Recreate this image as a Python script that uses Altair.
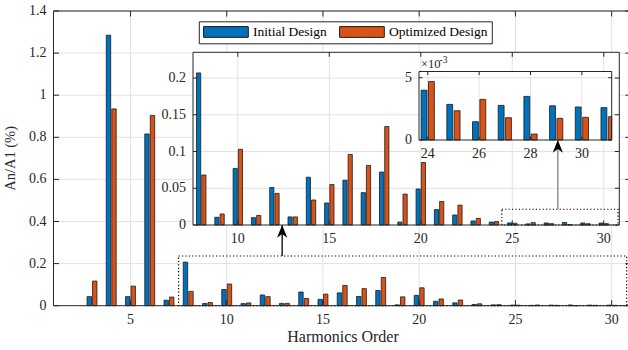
import altair as alt
import pandas as pd

# Harmonic content An/A1 (%) of the two designs
harmonics = list(range(3, 32))
initial = [0.043, 1.285, 0.043, 0.816, 0.026, 0.207, 0.0105, 0.077, 0.010, 0.051,
           0.011, 0.065, 0.030, 0.061, 0.044, 0.072, 0.004, 0.049, 0.021, 0.0136,
           0.0055, 0.0040, 0.00286, 0.00147, 0.00278, 0.0035, 0.00275, 0.00265, 0.0026]
optimized = [0.117, 0.935, 0.093, 0.904, 0.041, 0.068, 0.015, 0.103, 0.013, 0.043,
             0.011, 0.034, 0.055, 0.096, 0.081, 0.134, 0.042, 0.085, 0.032, 0.027,
             0.009, 0.0047, 0.00235, 0.00326, 0.00179, 0.00048, 0.00174, 0.00182, 0.00187]
series_names = ["Initial Design", "Optimized Design"]
series_colors = ["#0072BD", "#D95319"]

main_xticks = [5, 10, 15, 20, 25, 30]
main_yticks = [0, 0.2, 0.4, 0.6, 0.8, 1, 1.2, 1.4]
zoom1_xticks = [10, 15, 20, 25, 30]
zoom1_yticks = [0, 0.05, 0.1, 0.15, 0.2]
zoom2_xticks = [24, 26, 28, 30]
zoom2_yticks = [0, 5]

# page layout in pixels
PLOT_L, PLOT_T = 53.5, 11.0
PLOT_W, PLOT_H = 574.5, 294.7

FONT = "Liberation Serif"
INK = "#262626"
EDGE = "#1a1a1a"
GRID = "#e2e2e2"
GROUP_OFF = 0.143   # grouped-bar offset from the harmonic
BAR_HALF = 0.1145   # half bar width
ARROW_HEAD = "M0,0 L1,2.5 L0,1.75 L-1,2.5 Z"
# wide legend swatch: 8 x 2 path units, 5.6 px per unit -> about 45 x 11 px
LEGEND_SWATCH = "M-4,-0.96 L4,-0.96 L4,0.96 L-4,0.96 Z"

bars_df = pd.DataFrame({
    "h": harmonics * 2,
    "series": [series_names[0]] * len(harmonics) + [series_names[1]] * len(harmonics),
    "value": initial + optimized,
})


def scales_for(box, lims):
    """Scales spanning the whole plot so that `lims` lands on the pixel `box`."""
    l, t = box[0] - PLOT_L, box[1] - PLOT_T
    r, b = box[2] - PLOT_L, box[3] - PLOT_T
    x0, x1, y0, y1 = lims
    kx = (x1 - x0) / (r - l)
    ky = (y1 - y0) / (b - t)
    xs = alt.Scale(domain=[x0 - l * kx, x1 + (PLOT_W - r) * kx], nice=False, zero=False)
    ys = alt.Scale(domain=[y0 - (PLOT_H - b) * ky, y1 + t * ky], nice=False, zero=False)
    return xs, ys, kx, ky


def rect_df(x0, x1, y0, y1):
    return pd.DataFrame({"xa": [x0], "xb": [x1], "ya": [y0], "yb": [y1]})


def span_enc(xs, ys):
    return dict(x=alt.X("xa:Q", scale=xs, axis=None), x2="xb:Q",
                y=alt.Y("ya:Q", scale=ys, axis=None), y2="yb:Q")


def panel(box, lims, xticks, yticks, tick_len, hmin, hmax, factor=1.0,
          white=True, main=False, zoom_rect=None, arrow=None, notes=False, pad_x=7):
    xs, ys, kx, ky = scales_for(box, lims)
    x0, x1, y0, y1 = lims
    layers = []

    if white:
        layers.append(alt.Chart(rect_df(x0, x1, y0, y1)).mark_rect(fill="white")
                      .encode(**span_enc(xs, ys)))

    # grid
    grid_rows = [(v, v, y0, y1) for v in xticks] + [(x0, x1, v, v) for v in yticks if v != y0]
    layers.append(alt.Chart(pd.DataFrame(grid_rows, columns=["xa", "xb", "ya", "yb"]))
                  .mark_rule(color=GRID, strokeWidth=1).encode(**span_enc(xs, ys)))

    # grouped bars
    legend = None
    if main:
        legend = alt.Legend(
            title=None, orient="none", legendX=145.3, legendY=10.3,
            direction="horizontal", columns=2,
            symbolType=LEGEND_SWATCH, symbolSize=125, symbolOffset=16.9,
            symbolStrokeColor=EDGE, symbolStrokeWidth=1, symbolOpacity=1,
            labelFont=FONT, labelFontSize=13.5, labelColor="black", labelOffset=20.3,
            labelLimit=0, columnPadding=10, padding=3.5,
            strokeColor=INK, fillColor="white")
    layers.append(alt.Chart(bars_df).transform_filter(
        f"datum.h >= {hmin} && datum.h <= {hmax}"
    ).transform_calculate(
        mid=f"datum.h + (datum.series == '{series_names[0]}' ? {-GROUP_OFF} : {GROUP_OFF})"
    ).transform_calculate(
        left=f"datum.mid - {BAR_HALF}",
        right=f"min(datum.mid + {BAR_HALF}, {x1})",
        top=f"datum.value * {factor}",
        base="0",
    ).mark_rect(stroke=EDGE, strokeWidth=0.8).encode(
        x=alt.X("left:Q", scale=xs, axis=None), x2="right:Q",
        y=alt.Y("top:Q", scale=ys, axis=None), y2="base:Q",
        color=alt.Color("series:N", scale=alt.Scale(domain=series_names, range=series_colors),
                        legend=legend)))

    # dotted zoom region
    if zoom_rect is not None:
        layers.append(alt.Chart(rect_df(*zoom_rect)).mark_rect(
            fillOpacity=0, stroke="black", strokeWidth=1.2, strokeDash=[1.2, 2.2])
            .encode(**span_enc(xs, ys)))

    # axes box
    layers.append(alt.Chart(rect_df(x0, x1, y0, y1)).mark_rect(
        fillOpacity=0, stroke=INK, strokeWidth=1).encode(**span_enc(xs, ys)))

    # inward tick marks on all four sides
    tick_rows = []
    for v in xticks:
        tick_rows.append((v, v, y0, y0 + tick_len * ky))
        tick_rows.append((v, v, y1, y1 - tick_len * ky))
    for v in yticks:
        tick_rows.append((x0, x0 + tick_len * kx, v, v))
        tick_rows.append((x1, x1 - tick_len * kx, v, v))
    layers.append(alt.Chart(pd.DataFrame(tick_rows, columns=["xa", "xb", "ya", "yb"]))
                  .mark_rule(color=INK, strokeWidth=1).encode(**span_enc(xs, ys)))

    # tick labels
    xl = pd.DataFrame({"x": xticks, "y": [y0] * len(xticks), "t": [f"{v:g}" for v in xticks]})
    layers.append(alt.Chart(xl).mark_text(
        baseline="top", align="center", dy=pad_x, font=FONT, fontSize=14, color=INK).encode(
        x=alt.X("x:Q", scale=xs, axis=None), y=alt.Y("y:Q", scale=ys, axis=None), text="t:N"))
    yl = pd.DataFrame({"x": [x0] * len(yticks), "y": yticks, "t": [f"{v:g}" for v in yticks]})
    layers.append(alt.Chart(yl).mark_text(
        baseline="middle", align="right", dx=-7, font=FONT, fontSize=14, color=INK).encode(
        x=alt.X("x:Q", scale=xs, axis=None), y=alt.Y("y:Q", scale=ys, axis=None), text="t:N"))

    if main:
        titles = pd.DataFrame({"t": ["Harmonics Order", "An/A1 (%)"]})
        layers.append(alt.Chart(titles).transform_filter("datum.t == 'Harmonics Order'")
                      .mark_text(align="center", baseline="alphabetic", font=FONT,
                                 fontSize=16, color=INK)
                      .encode(x=alt.value(289.5), y=alt.value(PLOT_H + 36), text="t:N"))
        layers.append(alt.Chart(titles).transform_filter("datum.t == 'An/A1 (%)'")
                      .mark_text(align="center", baseline="alphabetic", angle=270, font=FONT,
                                 fontSize=14.5, color=INK)
                      .encode(x=alt.value(-38.7), y=alt.value(147.4), text="t:N"))

    # arrow pointing at the magnified view
    if arrow is not None:
        ax, ya, yb, shaft = arrow
        layers.append(alt.Chart(rect_df(ax, ax, ya, yb)).mark_rule(color=shaft, strokeWidth=1.3)
                      .encode(**span_enc(xs, ys)))
        layers.append(alt.Chart(pd.DataFrame({"x": [ax], "y": [yb]})).mark_point(
            shape=ARROW_HEAD, filled=True, color="black", size=105, opacity=1).encode(
            x=alt.X("x:Q", scale=xs, axis=None), y=alt.Y("y:Q", scale=ys, axis=None)))

    # exponent label
    if notes:
        note_df = pd.DataFrame({"x": [x0, x0], "y": [y1, y1], "t": ["\u00d710", "-3"]})
        base = alt.Chart(note_df).encode(
            x=alt.X("x:Q", scale=xs, axis=None), y=alt.Y("y:Q", scale=ys, axis=None), text="t:N")
        layers.append(base.transform_filter("datum.t != '-3'").mark_text(
            align="left", baseline="alphabetic", dx=2, dy=-3.5, font=FONT, fontSize=12.5, color=INK))
        layers.append(base.transform_filter("datum.t == '-3'").mark_text(
            align="left", baseline="alphabetic", dx=20.5, dy=-9, font=FONT, fontSize=9.5, color=INK))

    return alt.layer(*layers)


main_panel = panel(
    box=(53.5, 11.0, 630.9, 305.7), lims=(1, 31, 0, 1.4),
    xticks=main_xticks, yticks=main_yticks, tick_len=5.5, hmin=3, hmax=31,
    white=False, main=True, pad_x=7,
    zoom_rect=(7.5, 30.78, 0, 0.236),
    arrow=(12.88, 0.236, 0.3834, "black"))

zoom1_panel = panel(
    box=(193.0, 52.3, 619.3, 225.0), lims=(7.55, 30.85, 0, 0.235),
    xticks=zoom1_xticks, yticks=zoom1_yticks, tick_len=4.5, hmin=8, hmax=30,
    zoom_rect=(24.43, 30.78, 0, 0.0214),
    arrow=(27.49, 0.0214, 0.1157, "#808080"))

zoom2_panel = panel(
    box=(419.0, 71.5, 611.7, 140.0), lims=(23.66, 31.16, 0, 5.5),
    xticks=zoom2_xticks, yticks=zoom2_yticks, tick_len=3.5, hmin=24, hmax=31,
    factor=1000.0, notes=True)

chart = alt.layer(main_panel, zoom1_panel, zoom2_panel).resolve_scale(
    x="independent", y="independent"
).properties(
    width=PLOT_W, height=PLOT_H,
    padding={"left": PLOT_L, "top": PLOT_T, "right": 0, "bottom": 350 - PLOT_T - PLOT_H},
    autosize=alt.AutoSizeParams(type="none"),
).configure(background="white").configure_view(stroke=None)

chart.save("out.html", embed_options={"renderer": "svg", "actions": False})
